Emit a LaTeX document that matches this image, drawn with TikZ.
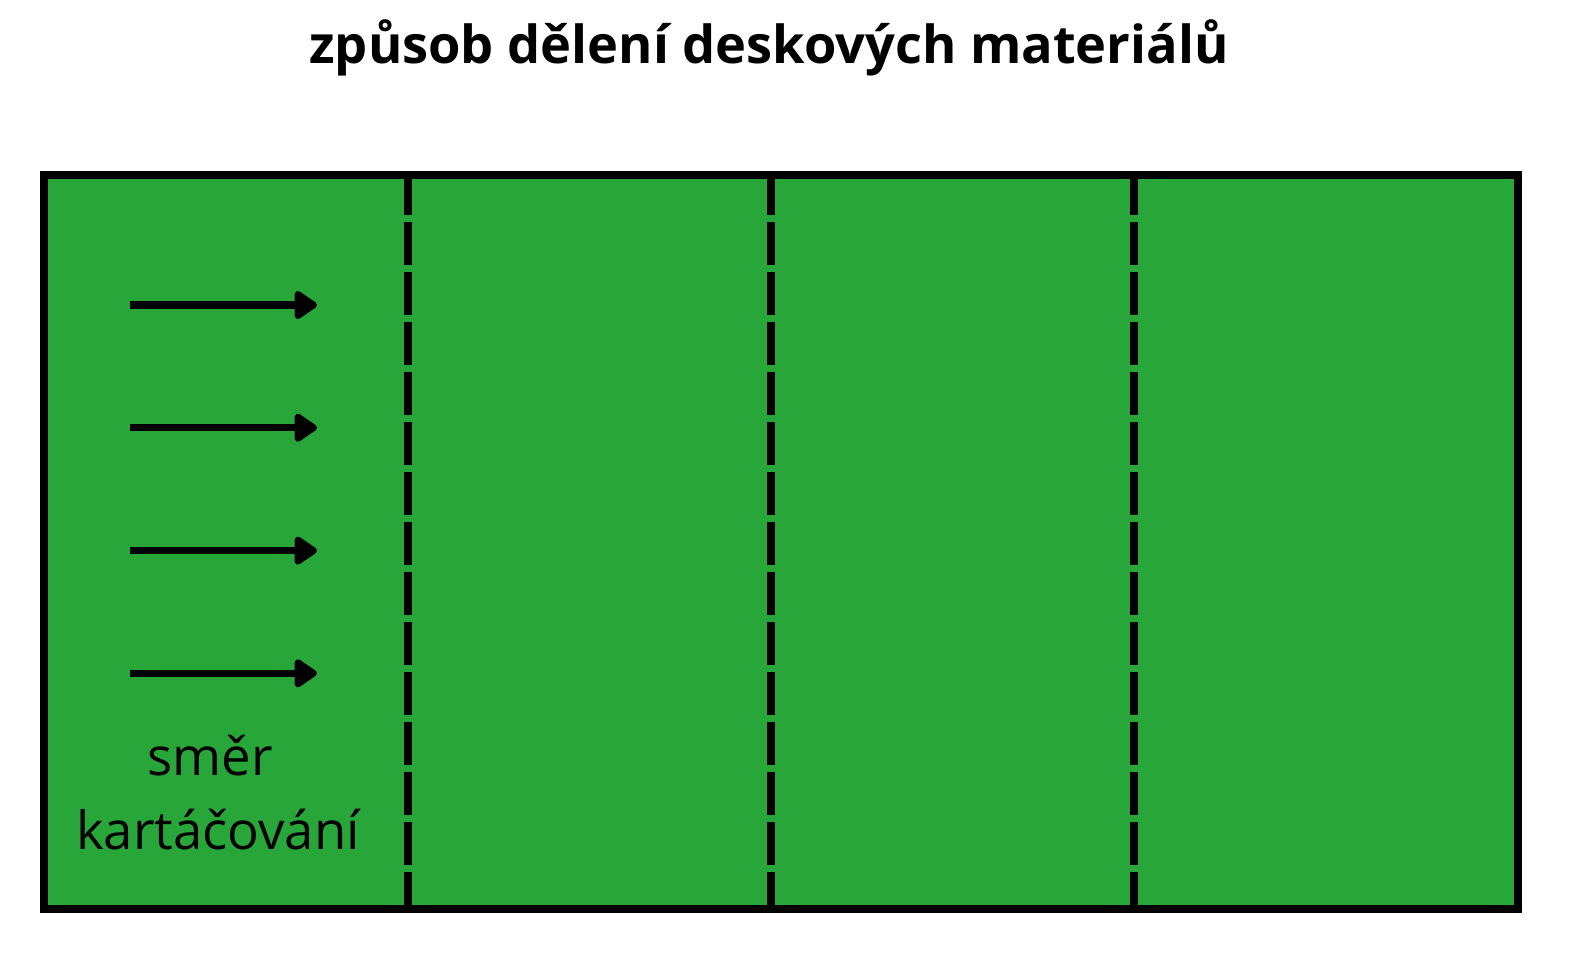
\documentclass[tikz,border=0pt]{standalone}
\usepackage{fontspec}
\setmainfont{Open Sans}
\usetikzlibrary{arrows.meta}

\definecolor{boardgreen}{RGB}{41,166,58}

\tikzset{
  cutline/.style={line width=0.75mm, dash pattern=on 4.33mm off 0.67mm},
  brushdir/.style={line width=0.75mm, -{Triangle[length=2.5mm,width=3.2mm,round]}},
  label/.style={font=\fontsize{15}{21}\selectfont, anchor=base, inner sep=0pt}
}

\begin{document}
\begin{tikzpicture}[x=0.1mm,y=-0.1mm]
   \useasboundingbox (0,0) rectangle (1590,967);
   % board
   \fill[boardgreen] (44,175) rectangle (1518,909);
   \foreach \x in {408,771,1134}
      \draw[cutline] (\x,172) -- (\x,912);
   \draw[line width=0.75mm] (44,175) rectangle (1518,909);
   % brushing direction
   \foreach \y in {305,427.7,550.6,673.3}
      \draw[brushdir] (130,\y) -- (317,\y);
   \node[label] (smer) at (210,775) {směr};
   \node[label] (kart) at (218,849) {kartáčování};
   \node[label, font=\fontsize{14.9}{20}\selectfont\bfseries] (title) at (769,64)
      {způsob dělení deskových materiálů};
\end{tikzpicture}
\end{document}
